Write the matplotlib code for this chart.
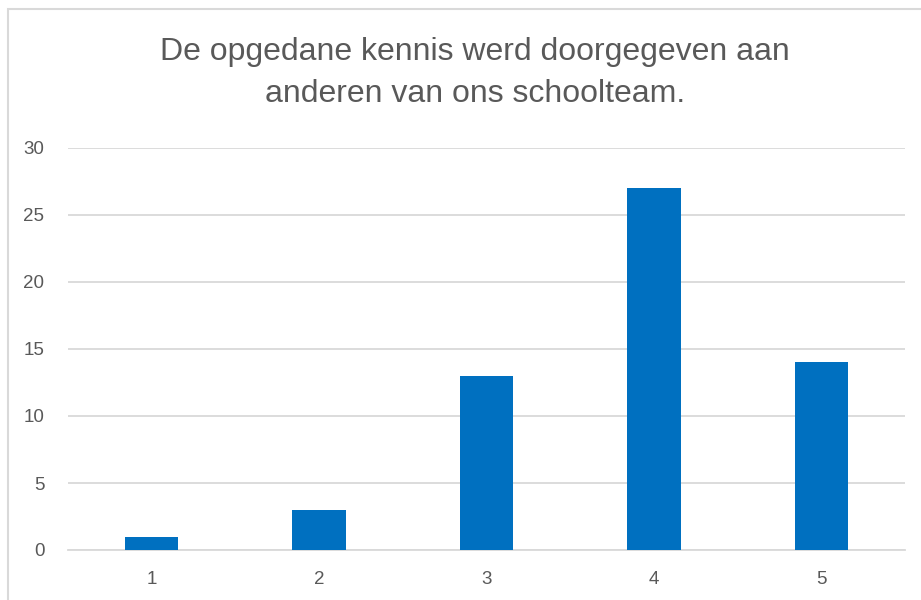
import matplotlib
matplotlib.use('Agg')
import matplotlib.pyplot as plt
from matplotlib.patches import Rectangle

# antwoordschaal en aantal respondenten
categories = ['1', '2', '3', '4', '5']
counts = [1, 3, 13, 27, 14]
yticks = [0, 5, 10, 15, 20, 25, 30]
title = 'De opgedane kennis werd doorgegeven aan\nanderen van ons schoolteam.'

text_color = '#595959'
grid_color = '#D9D9D9'
bar_color = '#0070C0'

fig = plt.figure(figsize=(9.21, 6), dpi=100)
ax = fig.add_axes([68 / 921, 1 - 550 / 600, (905 - 68) / 921, (550 - 148) / 600])

x = list(range(len(categories)))
ax.bar(x, counts, width=0.32, color=bar_color, zorder=3)

ax.set_xlim(-0.5, len(categories) - 0.5)
ax.set_ylim(0, 30)
ax.set_xticks(x)
ax.set_xticklabels(categories)
ax.set_yticks(yticks)
ax.yaxis.grid(True, color=grid_color, linewidth=1.3, zorder=0)
ax.set_axisbelow(True)

for side in ['top', 'right', 'left']:
    ax.spines[side].set_visible(False)
ax.spines['bottom'].set_color(grid_color)
ax.spines['bottom'].set_linewidth(1.3)

ax.tick_params(axis='both', length=0, labelsize=13.5, labelcolor=text_color)
ax.tick_params(axis='y', pad=17)
ax.tick_params(axis='x', pad=15)
for lab in ax.get_xticklabels() + ax.get_yticklabels():
    lab.set_family(['Liberation Sans', 'DejaVu Sans'])

fig.text(475 / 921, 1 - 73 / 600, title, ha='center', va='center',
         fontsize=23, color=text_color, linespacing=1.55,
         family=['Liberation Sans', 'DejaVu Sans'])

# rand rond het grafiekgebied
fig.patches.append(Rectangle((8 / 921, -0.1), 1.2, 1.1 - 9 / 600,
                             transform=fig.transFigure, fill=False,
                             edgecolor=grid_color, linewidth=1.5))

fig.savefig('out.png', dpi=100)
